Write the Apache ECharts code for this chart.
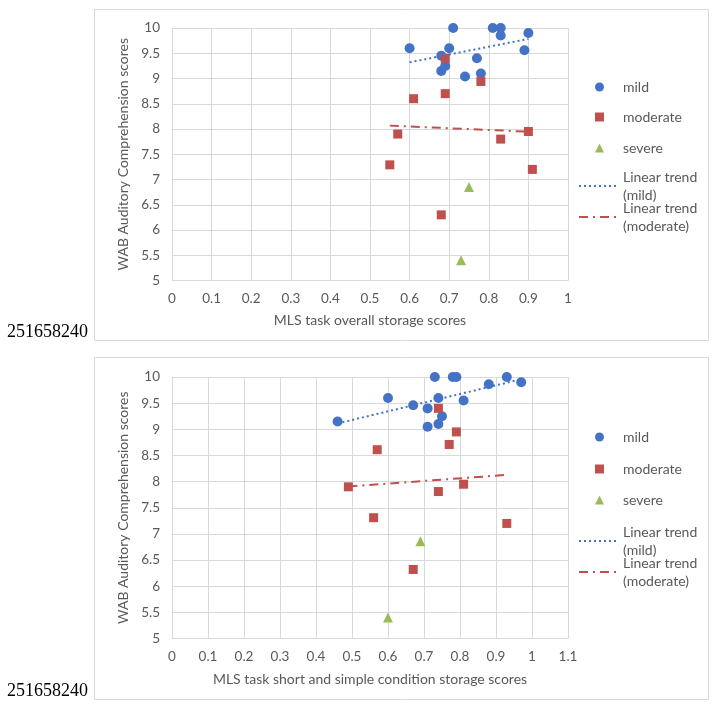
<!DOCTYPE html>
<html>
<head>
<meta charset="utf-8">
<script src="https://cdn.jsdelivr.net/npm/echarts@6/dist/echarts.min.js"></script>
<style>
html,body{margin:0;padding:0;background:#fff;}
#c{width:714px;height:705px;}
</style>
</head>
<body>
<div id="c"></div>
<script>
// ---- Chart 1: MLS task overall storage scores ----
const c1MildX = [0.60, 0.71, 0.81, 0.83, 0.83, 0.90, 0.70, 0.68, 0.77, 0.89, 0.69, 0.68, 0.74, 0.78];
const c1MildY = [9.60, 10.0, 10.0, 10.0, 9.85, 9.90, 9.60, 9.45, 9.40, 9.56, 9.25, 9.15, 9.04, 9.10];
const c1ModX  = [0.69, 0.78, 0.69, 0.61, 0.57, 0.90, 0.83, 0.55, 0.91, 0.68];
const c1ModY  = [9.40, 8.94, 8.70, 8.60, 7.90, 7.95, 7.80, 7.29, 7.20, 6.30];
const c1SevX  = [0.75, 0.73];
const c1SevY  = [6.85, 5.40];

// ---- Chart 2: MLS task short and simple condition storage scores ----
const c2MildX = [0.46, 0.60, 0.67, 0.71, 0.71, 0.73, 0.74, 0.75, 0.74, 0.78, 0.79, 0.81, 0.88, 0.93, 0.97];
const c2MildY = [9.15, 9.60, 9.46, 9.40, 9.05, 10.0, 9.60, 9.25, 9.10, 10.0, 10.0, 9.55, 9.86, 10.0, 9.90];
const c2ModX  = [0.74, 0.79, 0.77, 0.57, 0.49, 0.74, 0.81, 0.56, 0.93, 0.67];
const c2ModY  = [9.40, 8.95, 8.71, 8.61, 7.90, 7.81, 7.95, 7.31, 7.20, 6.32];
const c2SevX  = [0.69, 0.60];
const c2SevY  = [6.86, 5.40];

const yTicks = {min: 5, max: 10, interval: 0.5};
const x1Axis = {min: 0, max: 1, interval: 0.1};
const x2Axis = {min: 0, max: 1.1, interval: 0.1};
const xTitles = ['MLS task overall storage scores', 'MLS task short and simple condition storage scores'];
const yTitle = 'WAB Auditory Comprehension scores';
const groupNames = ['mild', 'moderate', 'severe', 'Linear trend\n(mild)', 'Linear trend\n(moderate)'];
const stamp = '251658240';

function zip(xs, ys){ return xs.map((x,i)=>[x, ys[i]]); }
function trend(xs, ys){
  const n = xs.length;
  const mx = xs.reduce((a,b)=>a+b,0)/n, my = ys.reduce((a,b)=>a+b,0)/n;
  let sxy=0, sxx=0;
  for(let i=0;i<n;i++){ sxy+=(xs[i]-mx)*(ys[i]-my); sxx+=(xs[i]-mx)*(xs[i]-mx); }
  const b = sxy/sxx, a = my - b*mx;
  const x0 = Math.min(...xs), x1 = Math.max(...xs);
  return [[x0, a+b*x0],[x1, a+b*x1]];
}

const BLUE = '#4472C4', RED = '#C0504D', GREEN = '#9BBB59';
const TXT = '#595959', GRID = '#d9d9d9';
const FONT = 'Lato';

function axisX(idx, cfg, name, gap){
  return Object.assign({
    type:'value', gridIndex: idx, name: name, nameLocation:'middle', nameGap: gap,
    nameTextStyle:{color:TXT, fontSize:14, fontFamily:FONT},
    axisLine:{show:true, lineStyle:{color:GRID}}, axisTick:{show:false},
    axisLabel:{color:TXT, fontSize:13.5, fontFamily:FONT, margin:11},
    splitLine:{show:true, lineStyle:{color:GRID}}
  }, cfg);
}
function axisY(idx){
  return Object.assign({
    type:'value', gridIndex: idx, name: yTitle, nameLocation:'middle', nameGap: 37,
    nameTextStyle:{color:TXT, fontSize:14, fontFamily:FONT},
    axisLine:{show:false}, axisTick:{show:false},
    axisLabel:{color:TXT, fontSize:13.5, fontFamily:FONT, margin:12},
    splitLine:{show:true, lineStyle:{color:GRID}}
  }, yTicks);
}

function seriesFor(idx, mx, my, dx, dy, sx, sy){
  return [
    {name: groupNames[0], type:'scatter', xAxisIndex: idx, yAxisIndex: idx, data: zip(mx,my), symbol:'circle', symbolSize:10, itemStyle:{color:BLUE, opacity:1}, z:3},
    {name: groupNames[1], type:'scatter', xAxisIndex: idx, yAxisIndex: idx, data: zip(dx,dy), symbol:'rect', symbolSize:9, itemStyle:{color:RED, opacity:1}, z:3},
    {name: groupNames[2], type:'scatter', xAxisIndex: idx, yAxisIndex: idx, data: zip(sx,sy), symbol:'triangle', symbolSize:10, itemStyle:{color:GREEN, opacity:1}, z:3},
    {name: groupNames[3], type:'line', xAxisIndex: idx, yAxisIndex: idx, data: trend(mx,my), symbol:'none', showSymbol:false,
      lineStyle:{color:BLUE, width:2, type:[2,3]}, itemStyle:{color:BLUE}, z:4},
    {name: groupNames[4], type:'line', xAxisIndex: idx, yAxisIndex: idx, data: trend(dx,dy), symbol:'none', showSymbol:false,
      lineStyle:{color:RED, width:2, type:[9,5,2,5]}, itemStyle:{color:RED}, z:4}
  ];
}

function legendsFor(centers){
  const L = [];
  const txt = {color:TXT, fontSize:14, fontFamily:FONT, lineHeight:18};
  for(let i=0;i<3;i++){
    L.push({data:[groupNames[i]], left:595, top:centers[i]-9, padding:0, itemWidth:9, itemHeight:9,
      textStyle:Object.assign({padding:[0,0,0,14]}, txt)});
  }
  for(let i=3;i<5;i++){
    L.push({data:[groupNames[i]], left:578, top:centers[i]-18, padding:0, itemWidth:39, itemHeight:14,
      itemStyle:{opacity:0}, textStyle:txt});
  }
  return L;
}

const chart = echarts.init(document.getElementById('c'));
chart.setOption({
  animation:false,
  backgroundColor:'#fff',
  grid:[
    {left:172, top:28, width:396, height:252.5, containLabel:false},
    {left:172, top:377, width:396, height:261.5, containLabel:false}
  ],
  xAxis:[ axisX(0, x1Axis, xTitles[0], 33), axisX(1, x2Axis, xTitles[1], 34) ],
  yAxis:[ axisY(0), axisY(1) ],
  legend: legendsFor([87,117,148,186,217]).concat(legendsFor([437,469,500,541,572])),
  series: seriesFor(0, c1MildX, c1MildY, c1ModX, c1ModY, c1SevX, c1SevY)
          .concat(seriesFor(1, c2MildX, c2MildY, c2ModX, c2ModY, c2SevX, c2SevY)),
  graphic:[
    {type:'rect', left:92, top:7, shape:{width:614, height:331}, style:{fill:'none', stroke:GRID, lineWidth:1}, z:-1, silent:true},
    {type:'rect', left:92, top:355, shape:{width:614, height:342}, style:{fill:'none', stroke:GRID, lineWidth:1}, z:-1, silent:true},
    {type:'text', left:7, top:323, style:{text:stamp, font:'18px "Liberation Serif"', fill:'#000'}},
    {type:'text', left:7, top:682, style:{text:stamp, font:'18px "Liberation Serif"', fill:'#000'}}
  ]
});
</script>
</body>
</html>
